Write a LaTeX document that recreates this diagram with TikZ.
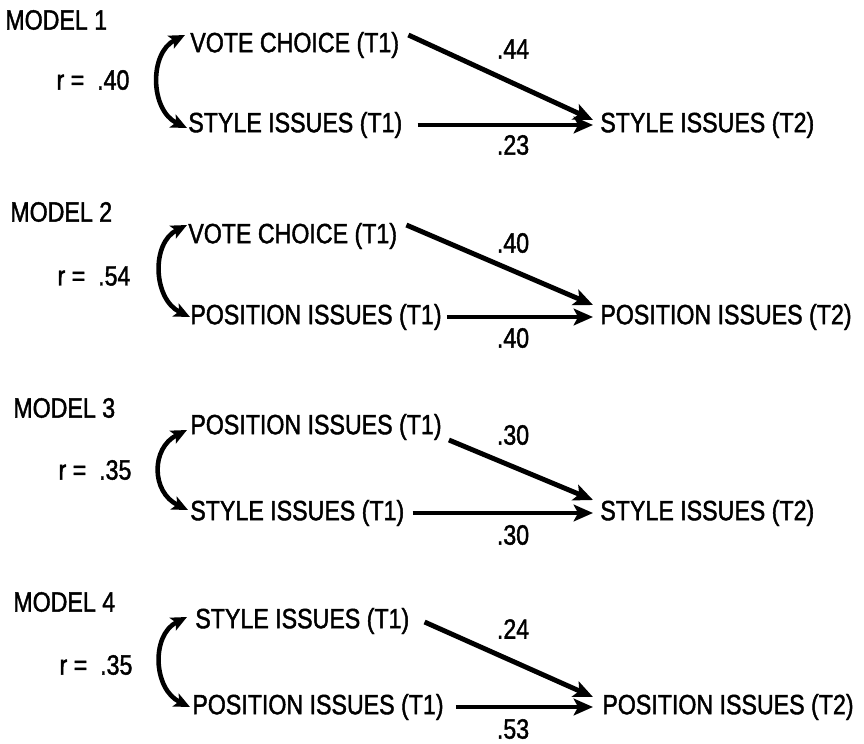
\documentclass[tikz,border=0pt]{standalone}
\usepackage{fontspec}
\setmainfont{Liberation Sans}[FakeStretch=0.83,FakeBold=1.5]
\usetikzlibrary{arrows.meta}
\begin{document}
\begin{tikzpicture}[x=0.02cm,y=-0.02cm,
  every node/.style={font=\fontsize{15.9}{19}\selectfont,inner sep=0pt},
  var/.style={anchor=west},
  effect/.style={line width=2.8pt,-{Stealth[length=11pt,width=9.5pt,inset=2.5pt]}},
  corr/.style={line width=2.6pt,{Stealth[length=9pt,width=8pt,inset=2pt]}-{Stealth[length=9pt,width=8pt,inset=2pt]}}]
\useasboundingbox (0,0) rectangle (864,743);
% model 1
\node[var] (m1) at (5,20) {MODEL 1};
\node (r1) at (93,80) {r = ~.40};
\node[var] (a1) at (190,45) {VOTE CHOICE (T1)};
\node[var] (b1) at (188,125) {STYLE ISSUES (T1)};
\node[var] (c1) at (600,125) {STYLE ISSUES (T2)};
\draw[corr] ([shift={(-5,-10)}]a1.west) .. controls +(-36,18) and +(-37,-18) .. ([shift={(-1,3)}]b1.west);
\draw[effect] ([shift={(9,-10)}]a1.east) -- ([shift={(-7,-5)}]c1.west);
\draw[effect] ([shift={(15,0)}]b1.east) -- ([shift={(-7,0)}]c1.west);
\node (p1) at (513,49) {.44};
\node (q1) at (513,145) {.23};
% model 2
\node[var] (m2) at (10,212) {MODEL 2};
\node (r2) at (94,276) {r = ~.54};
\node[var] (a2) at (188,236) {VOTE CHOICE (T1)};
\node[var] (b2) at (190,317) {POSITION ISSUES (T1)};
\node[var] (c2) at (600,317) {POSITION ISSUES (T2)};
\draw[corr] ([shift={(-1,-11)}]a2.west) .. controls +(-36,18) and +(-37,-18) .. (b2.west);
\draw[effect] ([shift={(9,-11)}]a2.east) -- ([shift={(-7,-12)}]c2.west);
\draw[effect] ([shift={(5,0)}]b2.east) -- ([shift={(-7,0)}]c2.west);
\node (p2) at (513,243) {.40};
\node (q2) at (513,338) {.40};
% model 3
\node[var] (m3) at (13,408) {MODEL 3};
\node (r3) at (95,470) {r = ~.35};
\node[var] (a3) at (190,427) {POSITION ISSUES (T1)};
\node[var] (b3) at (190,513) {STYLE ISSUES (T1)};
\node[var] (c3) at (600,513) {STYLE ISSUES (T2)};
\draw[corr] ([shift={(-3,3)}]a3.west) .. controls +(-36,18) and +(-37,-18) .. ([shift={(-2,-3)}]b3.west);
\draw[effect] ([shift={(7,13)}]a3.east) -- ([shift={(-7,-13)}]c3.west);
\draw[effect] ([shift={(8,0)}]b3.east) -- ([shift={(-7,0)}]c3.west);
\node (p3) at (513,435) {.30};
\node (q3) at (513,535) {.30};
% model 4
\node[var] (m4) at (13,602) {MODEL 4};
\node (r4) at (96,665) {r = ~.35};
\node[var] (a4) at (195,621) {STYLE ISSUES (T1)};
\node[var] (b4) at (192,707) {POSITION ISSUES (T1)};
\node[var] (c4) at (602,707) {POSITION ISSUES (T2)};
\draw[corr] ([shift={(-8,-4)}]a4.west) .. controls +(-36,18) and +(-37,-18) .. ([shift={(-2,0)}]b4.west);
\draw[effect] ([shift={(15,1)}]a4.east) -- ([shift={(-9,-10)}]c4.west);
\draw[effect] ([shift={(12,0)}]b4.east) -- ([shift={(-9,0)}]c4.west);
\node (p4) at (513,629) {.24};
\node (q4) at (513,729) {.53};
\end{tikzpicture}
\end{document}
